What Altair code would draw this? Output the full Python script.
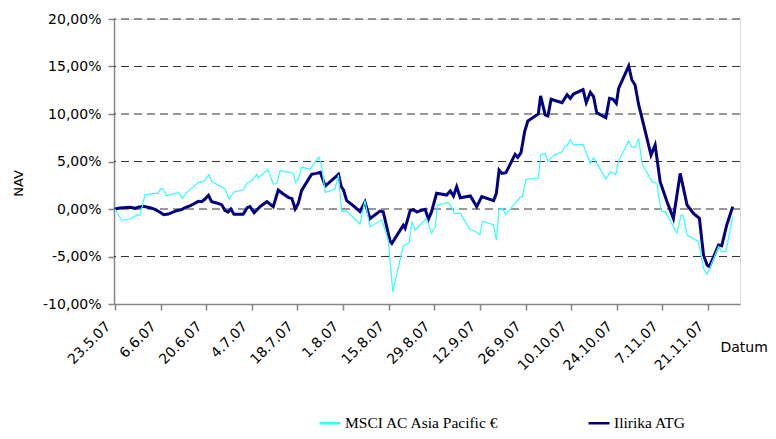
import json
import altair as alt
import pandas as pd

# ---- data ----
tick_labels = ["23.5.07", "6.6.07", "20.6.07", "4.7.07", "18.7.07", "1.8.07", "15.8.07",
               "29.8.07", "12.9.07", "26.9.07", "10.10.07", "24.10.07", "7.11.07", "21.11.07"]
tick_days = [0, 10, 20, 30, 40, 50, 60, 70, 80, 90, 100, 110, 120, 130]
y_ticks = [-10, -5, 0, 5, 10, 15, 20]
grid_levels = [-5, 0, 5, 10, 15, 20]

atg_day = [0.0, 1.1, 3.3, 4.4, 5.1, 6.2, 7.7, 8.8, 9.9, 10.7, 11.7, 13.5, 14.6, 15.4, 16.4,
           18.3, 19.0, 19.7, 20.5, 21.2, 22.3, 23.4, 24.1, 24.8, 25.4, 26.1, 28.1, 29.0, 29.6,
           30.5, 31.8, 33.3, 34.7, 35.8, 36.9, 38.0, 38.8, 39.5, 40.2, 40.9, 43.1, 44.2, 45.0,
           46.1, 49.0, 49.6, 50.1, 50.8, 52.3, 53.7, 54.8, 55.9, 58.1, 58.8, 60.3, 60.7, 62.9,
           63.2, 63.6, 64.7, 65.4, 66.2, 66.9, 68.0, 68.7, 69.4, 70.5, 72.7, 73.5, 74.2, 74.9,
           75.7, 77.9, 79.3, 80.4, 83.0, 83.6, 84.2, 84.8, 85.7, 87.7, 88.3, 89.0, 89.8, 90.5,
           92.8, 93.3, 94.3, 94.9, 95.6, 98.0, 99.1, 99.8, 100.5, 102.6, 103.3, 104.2, 104.9,
           105.6, 107.6, 108.4, 109.2, 109.9, 110.4, 112.6, 113.3, 114.0, 114.8, 115.9, 117.5,
           118.4, 119.5, 121.0, 122.4, 123.9, 125.4, 126.8, 128.1, 129.0, 129.8, 130.3, 132.3,
           133.0, 134.1, 135.4]
atg_nav = [0.0, 0.1, 0.18, 0.07, 0.18, 0.28, 0.14, -0.04, -0.35, -0.6, -0.53, -0.18, -0.07,
           0.14, 0.32, 0.81, 0.77, 1.02, 1.44, 0.77, 0.63, 0.46, -0.14, -0.32, 0.0, -0.56, -0.56,
           0.14, 0.25, -0.39, 0.25, 0.77, 0.25, 2.0, 1.58, 1.23, 1.09, 0.0, 0.6, 1.93, 3.65,
           3.75, 3.86, 2.42, 3.65, 2.35, 2.0, 0.88, 0.32, -0.28, 0.74, -1.02, -0.21, -0.28,
           -3.37, -3.61, -1.93, -1.72, -2.04, -0.18, -0.07, -0.32, -0.18, -0.04, -1.09, -0.28,
           1.65, 1.47, 1.89, 1.37, 2.35, 1.19, 1.37, 0.25, 1.3, 0.88, 1.65, 4.1, 3.75, 3.82,
           5.75, 5.44, 5.93, 8.14, 9.26, 10.0, 11.9, 9.9, 9.79, 11.55, 11.19, 12.03, 11.65,
           12.1, 12.56, 11.19, 12.28, 11.82, 10.14, 9.61, 11.65, 11.55, 11.12, 12.7, 15.05,
           13.58, 13.05, 10.95, 8.84, 5.68, 6.74, 2.88, 0.77, -0.98, 3.75, 0.42, -0.46, -0.98,
           -4.84, -5.89, -6.07, -3.79, -3.86, -1.68, 0.25]

msci_day = [0.0, 1.5, 3.7, 4.8, 5.5, 6.6, 8.4, 9.5, 10.0, 10.6, 11.3, 13.9, 14.8, 15.7, 18.3,
            19.4, 20.6, 21.2, 23.0, 24.1, 25.0, 26.1, 28.1, 29.0, 30.0, 31.1, 31.4, 33.5, 34.7,
            35.5, 36.2, 38.4, 39.1, 39.6, 40.2, 40.9, 42.8, 44.2, 44.7, 45.3, 46.1, 48.2, 49.0,
            49.7, 50.8, 53.7, 54.8, 55.9, 58.5, 59.9, 60.9, 63.2, 64.5, 65.1, 65.8, 66.9, 68.3,
            69.4, 70.2, 70.7, 73.1, 73.8, 74.4, 75.7, 77.9, 78.9, 80.0, 80.6, 83.0, 83.6, 84.2,
            84.9, 85.7, 88.8, 89.3, 90.1, 92.8, 93.3, 94.3, 94.9, 96.1, 98.0, 98.7, 99.1, 99.8,
            100.5, 102.6, 104.2, 104.9, 107.6, 108.6, 109.8, 110.4, 112.6, 113.3, 114.0, 114.8,
            115.5, 117.7, 118.8, 119.7, 120.6, 123.2, 124.1, 124.6, 125.4, 127.9, 129.0, 129.8,
            130.5, 132.3, 133.0, 133.9, 135.4]
msci_nav = [0.0, -1.23, -0.98, -0.63, -0.67, 1.47, 1.65, 1.65, 2.14, 2.1, 1.4, 1.72, 1.12,
            1.72, 2.81, 2.88, 3.61, 2.88, 2.42, 2.14, 1.05, 1.79, 2.0, 2.77, 2.98, 3.65, 3.26,
            4.18, 2.63, 2.7, 4.04, 3.86, 3.75, 2.77, 3.12, 4.39, 4.21, 5.16, 5.44, 4.53, 1.75,
            2.07, 3.58, -0.28, -0.21, -1.58, 0.88, -1.86, -1.16, -3.26, -8.7, -3.89, -3.54,
            -1.33, -2.21, -1.68, -0.98, -2.56, -1.86, 0.42, 0.67, 0.18, -0.46, -0.46, -2.21,
            -2.32, -2.74, -1.26, -1.68, -3.26, -0.1, 0.07, -0.56, 1.23, 1.3, 3.12, 3.23, 5.68,
            5.86, 5.02, 5.61, 6.03, 6.63, 6.67, 7.26, 6.74, 6.81, 4.81, 5.4, 3.16, 3.93, 3.65,
            5.05, 7.16, 6.56, 6.46, 7.44, 4.81, 2.88, 2.7, -0.21, -0.28, -2.56, -0.63, -0.74,
            -2.74, -3.44, -6.25, -6.88, -6.07, -3.96, -4.49, -4.49, -0.81]

SERIES = ["MSCI AC Asia Pacific €", "Ilirika ATG"]
COLORS = ["#33FFFF", "#000080"]

df_msci = pd.DataFrame({"day": msci_day, "nav": msci_nav, "series": SERIES[0]})
df_atg = pd.DataFrame({"day": atg_day, "nav": atg_nav, "series": SERIES[1]})
df_grid = pd.DataFrame({"level": grid_levels})

AX_FONT = "DejaVu Sans"
GRAY = "#868686"

x_label_expr = f"{json.dumps(tick_labels)}[round(datum.value / 10)]"
y_label_expr = ("(datum.value < 0 ? '-' : '') + "
                "replace(format(abs(datum.value), '.2f'), '.', ',') + '%'")

x_enc = alt.X(
    "day:Q",
    scale=alt.Scale(domain=[-0.2, 137], nice=False, zero=False),
    axis=alt.Axis(
        values=tick_days, labelExpr=x_label_expr, labelAngle=-45,
        labelAlign="right", labelBaseline="top", labelPadding=9, labelOffset=-12,
        labelFont=AX_FONT, labelFontSize=14, labelColor="black",
        grid=False, domainColor=GRAY, domainWidth=1.5, tickColor=GRAY, tickWidth=1.5,
        tickSize=6, title="Datum", titleFont=AX_FONT, titleFontSize=14,
        titleFontWeight="normal", titleColor="black", titleAlign="left",
        titleBaseline="middle", titleX=606, titleY=43, labelOverlap=False,
    ),
)
y_enc = alt.Y(
    "nav:Q",
    scale=alt.Scale(domain=[-10, 20], nice=False, zero=False),
    axis=alt.Axis(
        values=y_ticks, labelExpr=y_label_expr, labelFont=AX_FONT, labelFontSize=14,
        labelColor="black", labelPadding=7, grid=False, domainColor=GRAY,
        domainWidth=1.5, tickColor=GRAY, tickWidth=1.5, tickSize=6,
        title="NAV", titleFont=AX_FONT, titleFontSize=13, titleFontWeight="normal",
        titleColor="black", titleX=-96, titleY=164, titleAngle=-90,
        titleAlign="center", titleBaseline="middle",
    ),
)
color_enc = alt.Color(
    "series:N",
    scale=alt.Scale(domain=SERIES, range=COLORS),
    legend=alt.Legend(
        title=None, orient="none", legendX=204, legendY=392, direction="horizontal",
        symbolType="stroke", symbolSize=441, symbolStrokeWidth=2.5,
        labelFont="Liberation Serif", labelFontSize=15.5, labelColor="black",
        labelOffset=3, columnPadding=83,
    ),
)

grid = alt.Chart(df_grid).mark_rule(
    color="#333333", strokeWidth=1, strokeDash=[8, 5]
).encode(y=alt.Y("level:Q"))

atg = alt.Chart(df_atg).mark_line(strokeWidth=3).encode(x=x_enc, y=y_enc, color=color_enc)
msci = alt.Chart(df_msci).mark_line(strokeWidth=1.2).encode(x=x_enc, y=y_enc, color=color_enc)

chart = alt.layer(grid, atg, msci).properties(
    width=626, height=285,
    autosize=alt.AutoSizeParams(type="none"),
    padding={"left": 106, "top": 11, "right": 28, "bottom": 127},
).configure_view(stroke=None).configure(background="white")

chart.save("out.html", embed_options={"renderer": "svg", "actions": False})
